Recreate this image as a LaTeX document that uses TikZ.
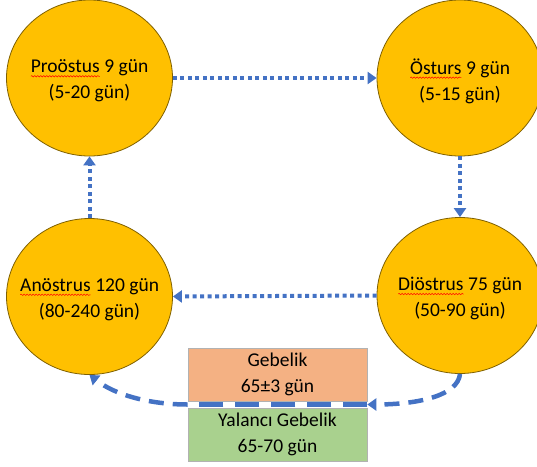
\documentclass[tikz,border=0pt]{standalone}
\usepackage{fontspec}
\setmainfont{Carlito}
\usetikzlibrary{shapes.geometric,arrows.meta,calc,decorations.pathmorphing}

\definecolor{phase}{HTML}{FFC000}
\definecolor{phaseline}{HTML}{7F6000}
\definecolor{cycle}{HTML}{4472C4}
\definecolor{preg}{HTML}{F4B183}
\definecolor{pseudo}{HTML}{A9D18E}

% red wavy underline under the phase names
\newcommand\wavymark[1]{\tikz[baseline=(w.base)]{%
  \node[shape=rectangle, draw=none, fill=none, inner sep=0pt, outer sep=0pt,
        minimum width=0pt, minimum height=0pt] (w) {#1};
  \draw[red, line width=0.5pt, solid, decorate, decoration={snake, amplitude=0.7pt, segment length=3pt}]
    ([yshift=-3.5pt]w.base west) -- ([yshift=-3.5pt]w.base east);}}

\begin{document}
\begin{tikzpicture}[x=1pt,y=1pt]
\tikzstyle{every node}+=[font=\fontsize{19.5}{26}\selectfont, align=center, inner sep=0pt]
\tikzstyle{phasenode}=[ellipse, draw=phaseline, line width=0.8pt, fill=phase, minimum width=166pt, minimum height=156pt]
\tikzstyle{pregbox}=[rectangle, draw=black!30, line width=0.6pt, minimum width=179pt, minimum height=53pt]
\tikzstyle{dotline}=[cycle, line width=4pt, dash pattern=on 4pt off 3.5pt, -{Triangle[length=9pt,width=12pt]}]
\tikzstyle{dashline}=[cycle, line width=4.5pt, dash pattern=on 15pt off 9pt]
\useasboundingbox (0,0) rectangle (537,-466);
% the four phases (text as centre label so the ellipse keeps its size)
\node[phasenode, label={[yshift=-3pt]center:\wavymark{Proöstus} 9 gün\\(5-20 gün)}] (pro) at (89.5,-78) {};
\node[phasenode, label={[yshift=-3pt]center:\wavymark{Östurs} 9 gün\\(5-15 gün)}] (ost) at (460,-78) {};
\node[phasenode, label={[yshift=-3pt]center:\wavymark{Diöstrus} 75 gün\\(50-90 gün)}] (dio) at (460,-295.5) {};
\node[phasenode, label={[yshift=-3pt]center:\wavymark{Anöstrus} 120 gün\\(80-240 gün)}] (ano) at (89.5,-296.5) {};
% pregnancy boxes
\node[pregbox, fill=preg] (geb) at (277.5,-374.5) {Gebelik\\65±3 gün};
\node[pregbox, fill=pseudo] (yal) at (277.5,-434.5) {Yalancı Gebelik\\65-70 gün};
\coordinate (re) at ($(geb.south east)!0.5!(yal.north east)$);
\coordinate (le) at ($(geb.south west)!0.5!(yal.north west)$);
% normal cycle
\draw [dotline] (pro.east) -- (ost.west);
\draw [dotline] (ost.south) -- (dio.north);
\draw [dotline] (dio.west) -- (ano.east);
\draw [dotline] (ano.north) -- (pro.south);
% through pregnancy
\draw [dashline, -{Triangle[length=9pt,width=12pt]}] (dio.south) .. controls (458,-395) and (420,-404.5) .. (re);
\draw [dashline, dash pattern=on 24pt off 12pt] (re) -- (le);
\draw [dashline, -{Triangle[length=9pt,width=12pt]}] (le) .. controls (150,-404.5) and (115,-395) .. (ano.south);
\end{tikzpicture}
\end{document}
